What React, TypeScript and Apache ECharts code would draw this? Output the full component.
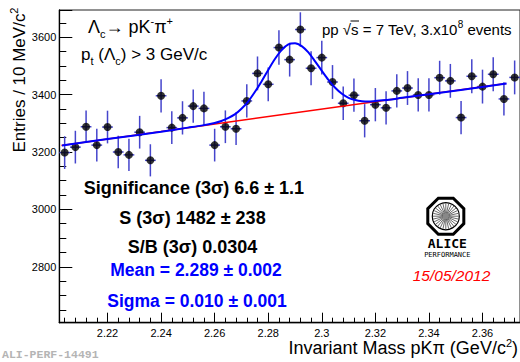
import React, { useEffect, useRef } from "react";
import * as echarts from "echarts";

const FONT = '"Liberation Sans", Arial, Helvetica, sans-serif';

// Bin centres (GeV/c^2), 4 MeV bins
const massBins = [
  2.204, 2.208, 2.212, 2.216, 2.22, 2.224, 2.228, 2.232, 2.236, 2.24,
  2.244, 2.248, 2.252, 2.256, 2.26, 2.264, 2.268, 2.272, 2.276, 2.28,
  2.284, 2.288, 2.292, 2.296, 2.3, 2.304, 2.308, 2.312, 2.316, 2.32,
  2.324, 2.328, 2.332, 2.336, 2.34, 2.344, 2.348, 2.352, 2.356, 2.36,
  2.364, 2.368, 2.372,
];
const entries = [
  3198, 3217, 3288, 3224, 3287, 3200, 3190, 3269, 3171, 3396,
  3285, 3319, 3360, 3352, 3224, 3288, 3281, 3378, 3474, 3436,
  3564, 3522, 3627, 3492, 3529, 3444, 3370, 3398, 3309, 3365,
  3354, 3413, 3423, 3399, 3399, 3459, 3448, 3320, 3464, 3428,
  3471, 3385, 3460,
];
const entryErrors = [
  57, 57, 57, 57, 57, 57, 56, 57, 56, 58,
  57, 58, 58, 58, 57, 57, 57, 58, 59, 59,
  60, 59, 60, 59, 59, 59, 58, 58, 58, 58,
  58, 58, 59, 58, 58, 59, 59, 58, 59, 59,
  59, 58, 59,
];
const binHalfWidth = 0.002;

// Total fit (gaussian + linear background)
const fitMass = [
  2.203, 2.22, 2.24, 2.25, 2.255, 2.26, 2.2625, 2.265, 2.2675, 2.27,
  2.2725, 2.275, 2.2775, 2.28, 2.2825, 2.285, 2.2875, 2.29, 2.2925, 2.295,
  2.2975, 2.3, 2.3025, 2.305, 2.3075, 2.31, 2.3125, 2.315, 2.3175, 2.32,
  2.325, 2.33, 2.34, 2.369,
];
const fitTotal = [
  3223, 3245, 3271, 3285, 3292, 3301, 3308, 3318, 3331, 3351,
  3376, 3409, 3446, 3486, 3524, 3555, 3575, 3579, 3569, 3547,
  3516, 3483, 3451, 3424, 3403, 3389, 3381, 3377, 3376, 3378,
  3382, 3389, 3401, 3439,
];
// Background (linear)
const bkgMass = [2.2028, 2.3688];
const bkgValues = [3223, 3439];

const xRange = [2.202, 2.374];
const yRange = [2605, 3695];

const statLines = [
  "Significance (3σ) 6.6 ± 1.1",
  "S (3σ) 1482 ± 238",
  "S/B (3σ) 0.0304",
];
const fitLines = ["Mean = 2.289 ± 0.002", "Sigma = 0.010 ± 0.001"];

function logoElements(cx: number, cy: number) {
  const els: any[] = [];
  const R = 19.5;
  const pts: number[][] = [];
  for (let i = 0; i < 8; i++) {
    const a = (Math.PI / 8) + (i * Math.PI) / 4;
    pts.push([cx + R * Math.cos(a), cy + R * Math.sin(a)]);
  }
  els.push({
    type: "polygon",
    shape: { points: pts },
    style: { fill: "#fff", stroke: "#000", lineWidth: 3 },
    z: 10,
  });
  els.push({
    type: "circle",
    shape: { cx, cy, r: 13.5 },
    style: { fill: "#fff", stroke: "#000", lineWidth: 1.2 },
    z: 11,
  });
  for (let i = 0; i < 28; i++) {
    const a = (i * 2 * Math.PI) / 28;
    els.push({
      type: "line",
      shape: {
        x1: cx + 2.5 * Math.cos(a),
        y1: cy + 2.5 * Math.sin(a),
        x2: cx + 13 * Math.cos(a),
        y2: cy + 13 * Math.sin(a),
      },
      style: { stroke: "#444", lineWidth: 0.8 },
      z: 12,
    });
  }
  els.push({
    type: "circle",
    shape: { cx, cy, r: 3 },
    style: { fill: "#888" },
    z: 13,
  });
  els.push({
    type: "text",
    x: cx + 1.5,
    y: cy + 27,
    style: {
      text: "ALICE",
      font: 'bold 13px "DejaVu Sans Mono", monospace',
      fill: "#000",
      align: "center",
      verticalAlign: "middle",
      textAlign: "center",
      textVerticalAlign: "middle",
    },
    z: 10,
  });
  els.push({
    type: "text",
    x: cx + 1.5,
    y: cy + 38.5,
    style: {
      text: "PERFORMANCE",
      font: '7px "DejaVu Sans Mono", monospace',
      fill: "#000",
      align: "center",
      verticalAlign: "middle",
      textAlign: "center",
      textVerticalAlign: "middle",
    },
    z: 10,
  });
  return els;
}

function txt(x: number, y: number, text: string, opts: any = {}) {
  const align = opts.align || "left";
  return {
    type: "text",
    x,
    y,
    rotation: opts.rotation || 0,
    style: {
      text,
      fontFamily: FONT,
      fontSize: opts.fontSize || 14,
      fontWeight: opts.fontWeight || "normal",
      fontStyle: opts.fontStyle || "normal",
      fill: opts.fill || "#000",
      align,
      verticalAlign: "middle",
      textAlign: align,
      textVerticalAlign: "middle",
      rich: opts.rich,
    },
    z: 10,
  };
}

function richSet(main: number, small: number, lh: number) {
  return {
    a: { fontSize: main, fontFamily: FONT, lineHeight: lh, verticalAlign: "middle" },
    b: { fontSize: small, fontFamily: FONT, lineHeight: small + 1, verticalAlign: "bottom" },
    c: { fontSize: small, fontFamily: FONT, lineHeight: small + 1, verticalAlign: "top" },
  };
}

export default function App() {
  const ref = useRef<HTMLDivElement>(null);
  useEffect(() => {
    document.body.style.margin = "0";
    const chart = echarts.init(ref.current!, null, { renderer: "svg" });

    const points = massBins.map((m, i) => [m, entries[i]]);
    const errs = massBins.map((m, i) => [m, entries[i], entryErrors[i]]);
    const fitData = fitMass.map((m, i) => [m, fitTotal[i]]);
    const bkgData = bkgMass.map((m, i) => [m, bkgValues[i]]);
    const errColor = "#4545cc";

    const graphic: any[] = [
      txt(88, 27, "{a|Λ}{b|c}{a|→ pK}{c|-}{a|π}{c|+}", { rich: richSet(18, 11, 24) }),
      txt(81, 54, "{a|p}{b|t}{a| (Λ}{b|c}{a|) > 3 GeV/c}", { rich: richSet(17, 11, 24) }),
      txt(322, 29, "{a|pp √s = 7 TeV, 3.x10}{c|8}{a| events}", { rich: richSet(15, 10, 19) }),
      {
        type: "line",
        shape: { x1: 350.5, y1: 21, x2: 359, y2: 21 },
        style: { stroke: "#000", lineWidth: 1 },
        z: 10,
      },
      txt(194, 188, statLines[0], { fontSize: 18, fontWeight: "bold", align: "center" }),
      txt(192.5, 218, statLines[1], { fontSize: 18, fontWeight: "bold", align: "center" }),
      txt(192.5, 247, statLines[2], { fontSize: 18, fontWeight: "bold", align: "center" }),
      txt(196, 270, fitLines[0], { fontSize: 17.5, fontWeight: "bold", align: "center", fill: "#0000ff" }),
      txt(197, 301, fitLines[1], { fontSize: 17.5, fontWeight: "bold", align: "center", fill: "#0000ff" }),
      txt(451.5, 275, "15/05/2012", { fontSize: 15.5, fontStyle: "italic", align: "center", fill: "#ff0000" }),
      txt(518, 348, "{a|Invariant Mass pKπ (GeV/c}{c|2}{a|)}", { align: "right", rich: richSet(18, 11, 22) }),
      txt(19, 80, "{a|Entries / 10 MeV/c}{c|2}", { align: "center", rotation: Math.PI / 2, rich: richSet(17, 11, 22) }),
      {
        type: "text",
        x: 2,
        y: 354,
        style: {
          text: "ALI-PERF-14491",
          font: 'bold 11.5px "Liberation Mono", "DejaVu Sans Mono", monospace',
          fill: "#b4b4b4",
          align: "left",
          verticalAlign: "middle",
          textAlign: "left",
          textVerticalAlign: "middle",
        },
        z: 10,
      },
      ...logoElements(445.8, 216.2),
    ];

    const option: any = {
      animation: false,
      backgroundColor: "#fff",
      grid: {
        left: 59.3,
        top: 10,
        width: 462.7,
        height: 312.7,
        show: true,
        borderColor: "#222",
        borderWidth: 1,
        backgroundColor: "transparent",
      },
      xAxis: {
        type: "value",
        min: xRange[0],
        max: xRange[1],
        splitNumber: 8,
        axisLine: { show: true, onZero: false, lineStyle: { color: "#000", width: 1.3 } },
        axisTick: { show: true, inside: true, length: 10, lineStyle: { color: "#000", width: 1 } },
        minorTick: { show: true, splitNumber: 5, length: 5, lineStyle: { color: "#000", width: 1 } },
        axisLabel: {
          show: true,
          color: "#000",
          fontFamily: FONT,
          fontSize: 11,
          margin: 5,
          showMinLabel: false,
          showMaxLabel: false,
          formatter: (v: number) => String(parseFloat(v.toFixed(3))),
        },
        splitLine: { show: false },
      },
      yAxis: {
        type: "value",
        min: yRange[0],
        max: yRange[1],
        splitNumber: 5,
        axisLine: { show: true, onZero: false, lineStyle: { color: "#000", width: 1.3 } },
        axisTick: { show: true, inside: true, length: 13, lineStyle: { color: "#000", width: 1 } },
        minorTick: { show: true, splitNumber: 4, length: 7, lineStyle: { color: "#000", width: 1 } },
        axisLabel: {
          show: true,
          color: "#000",
          fontFamily: FONT,
          fontSize: 11,
          margin: 3,
          showMinLabel: false,
          showMaxLabel: false,
          formatter: (v: number) => String(Math.round(v)),
        },
        splitLine: { show: false },
      },
      series: [
        {
          type: "custom",
          name: "errors",
          data: errs,
          encode: { x: 0, y: 1 },
          z: 2,
          renderItem: (params: any, api: any) => {
            const x = api.value(0);
            const y = api.value(1);
            const e = api.value(2);
            const top = api.coord([x, y + e]);
            const bot = api.coord([x, y - e]);
            const l = api.coord([x - binHalfWidth, y]);
            const r = api.coord([x + binHalfWidth, y]);
            return {
              type: "group",
              children: [
                { type: "line", shape: { x1: top[0], y1: top[1], x2: bot[0], y2: bot[1] }, style: { stroke: errColor, lineWidth: 1.5 } },
                { type: "line", shape: { x1: l[0], y1: l[1], x2: r[0], y2: r[1] }, style: { stroke: errColor, lineWidth: 1.5 } },
              ],
            };
          },
        },
        {
          type: "scatter",
          name: "data",
          data: points,
          symbol: "circle",
          symbolSize: 8,
          itemStyle: { color: "#000" },
          z: 3,
        },
        {
          type: "line",
          name: "background",
          data: bkgData,
          showSymbol: false,
          symbol: "none",
          lineStyle: { color: "#ff0000", width: 1.5 },
          z: 4,
        },
        {
          type: "line",
          name: "fit",
          data: fitData,
          showSymbol: false,
          symbol: "none",
          smooth: 0.3,
          lineStyle: { color: "#0000ff", width: 2 },
          z: 5,
        },
      ],
      graphic,
    };
    chart.setOption(option);
    return () => chart.dispose();
  }, []);
  return (
    <div
      ref={ref}
      style={{ position: "absolute", left: 0, top: 0, width: 520, height: 362, background: "#fff" }}
    />
  );
}
